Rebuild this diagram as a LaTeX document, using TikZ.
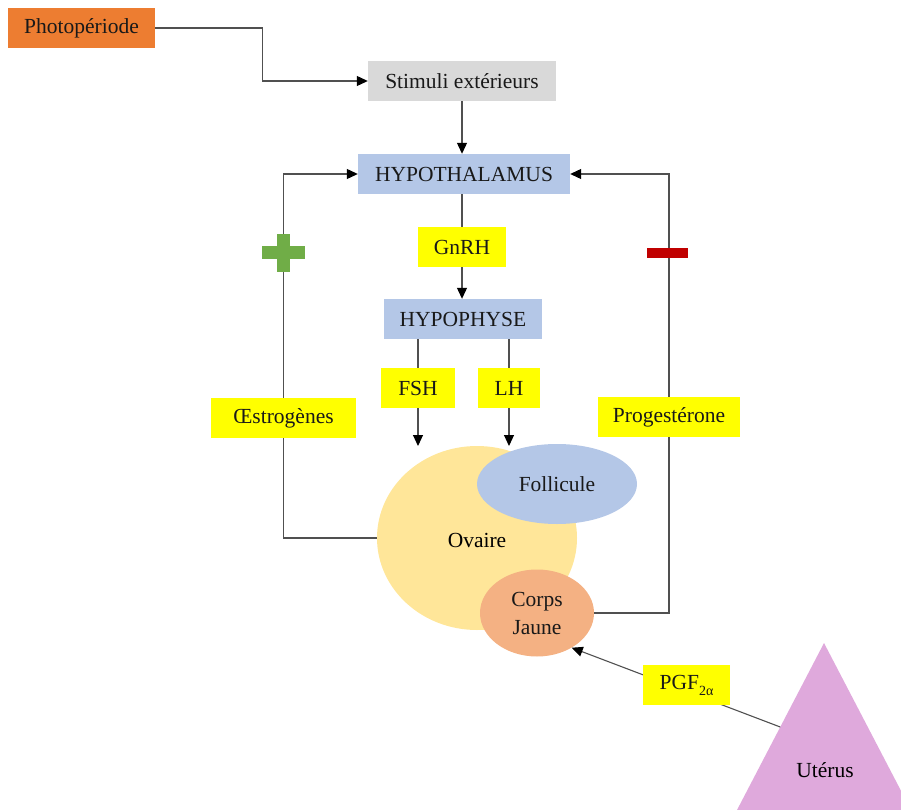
\documentclass[tikz,border=0pt]{standalone}
\usepackage{fontspec}
\setmainfont{Liberation Serif}
\usetikzlibrary{arrows.meta,shapes.geometric,calc}

\definecolor{orangebox}{HTML}{ED7D31}
\definecolor{greybox}{HTML}{D9D9D9}
\definecolor{bluebox}{HTML}{B4C7E7}
\definecolor{yellowbox}{HTML}{FFFF00}
\definecolor{ovairecol}{HTML}{FFE699}
\definecolor{cjcol}{HTML}{F4B183}
\definecolor{uteruscol}{HTML}{DFA9DC}
\definecolor{pluscol}{HTML}{70AD47}
\definecolor{minuscol}{HTML}{C00000}
\definecolor{linecol}{HTML}{505050}

\tikzset{
  box/.style={rectangle, inner sep=0pt, minimum height=40pt, text=black!90},
  blob/.style={ellipse, inner sep=0pt, text=black!90},
  link/.style={draw=linecol, line width=1.1pt},
  arr/.style={link, -{Triangle[length=11pt,width=10pt,fill=black,color=black]}},
}

\begin{document}
\begin{tikzpicture}[x=1pt,y=-1pt,font=\fontsize{21.5}{27}\selectfont]
\useasboundingbox (0,0) rectangle (901,810);

% boxes
\node[box, fill=orangebox, minimum width=147pt] (photo) at (81.5,28) {Photopériode};
\node[box, fill=greybox, minimum width=188pt] (stim) at (462,81) {Stimuli extérieurs};
\node[box, fill=bluebox, minimum width=212pt] (hyp) at (464,174) {HYPOTHALAMUS};
\node[box, fill=yellowbox, minimum width=88pt] (gnrh) at (462,247) {GnRH};
\node[box, fill=bluebox, minimum width=158pt] (hypo) at (463,319) {HYPOPHYSE};
\node[box, fill=yellowbox, minimum width=74pt] (fsh) at (418,388) {FSH};
\node[box, fill=yellowbox, minimum width=62pt] (lh) at (509,388) {LH};
\node[box, fill=yellowbox, minimum width=145pt] (oes) at (283.5,418) {Œstrogènes};
\node[box, fill=yellowbox, minimum width=142pt] (prog) at (669,417) {Progestérone};

% ovary with follicle and corpus luteum
\node[blob, fill=ovairecol, minimum width=200pt, minimum height=184pt] (ovaire) at (477,538) {};
\node at (477,540) {Ovaire};
\node[blob, fill=bluebox, minimum width=160pt, minimum height=80pt] (foll) at (557,484) {Follicule};
\node[blob, fill=cjcol, minimum width=114pt, minimum height=87pt, align=center,
      font=\fontsize{21.5}{28}\selectfont] (cj) at (537,613) {Corps\\Jaune};

% uterus
\fill[uteruscol] (824,643) -- (737,810) -- (911,810) -- cycle;
\node (uterus) at (825,770) {Utérus};
\coordinate (uedge) at ($(824,643)!0.503!(737,810)$);

% coordinates where the gonadotropin arrows stop
\coordinate (fshend) at (418,446);
\coordinate (lhend) at (509,446);

% connectors
\draw[arr] (photo.east) -- ++(107,0) |- (stim.west);
\draw[arr] (stim.south) -- (stim.south |- hyp.north);
\draw[link] (gnrh.north |- hyp.south) -- (gnrh.north);
\draw[arr] (gnrh.south) -- (gnrh.south |- hypo.north);
\draw[link] (fsh.north |- hypo.south) -- (fsh.north);
\draw[arr] (fsh.south) -- (fshend);
\draw[link] (lh.north |- hypo.south) -- (lh.north);
\draw[arr] (lh.south) -- (lhend);
\draw[link] (ovaire.west) -| (oes.south);
\draw[arr] (oes.north) |- (hyp.west);
\draw[link] (cj.east) -| (prog.south);
\draw[arr] (prog.north) |- (hyp.east);
\draw[arr] (uedge) -- (cj.-45);

\node[box, fill=yellowbox, minimum width=87pt] (pgf) at (686.5,685)
  {PGF\raisebox{-0.28em}{\fontsize{14}{14}\selectfont 2α}};

% feedback signs
\fill[pluscol] (262,246) rectangle (305,259);
\fill[pluscol] (277,234) rectangle (290,272);
\fill[minuscol] (647,248) rectangle (688,258);
\end{tikzpicture}
\end{document}
